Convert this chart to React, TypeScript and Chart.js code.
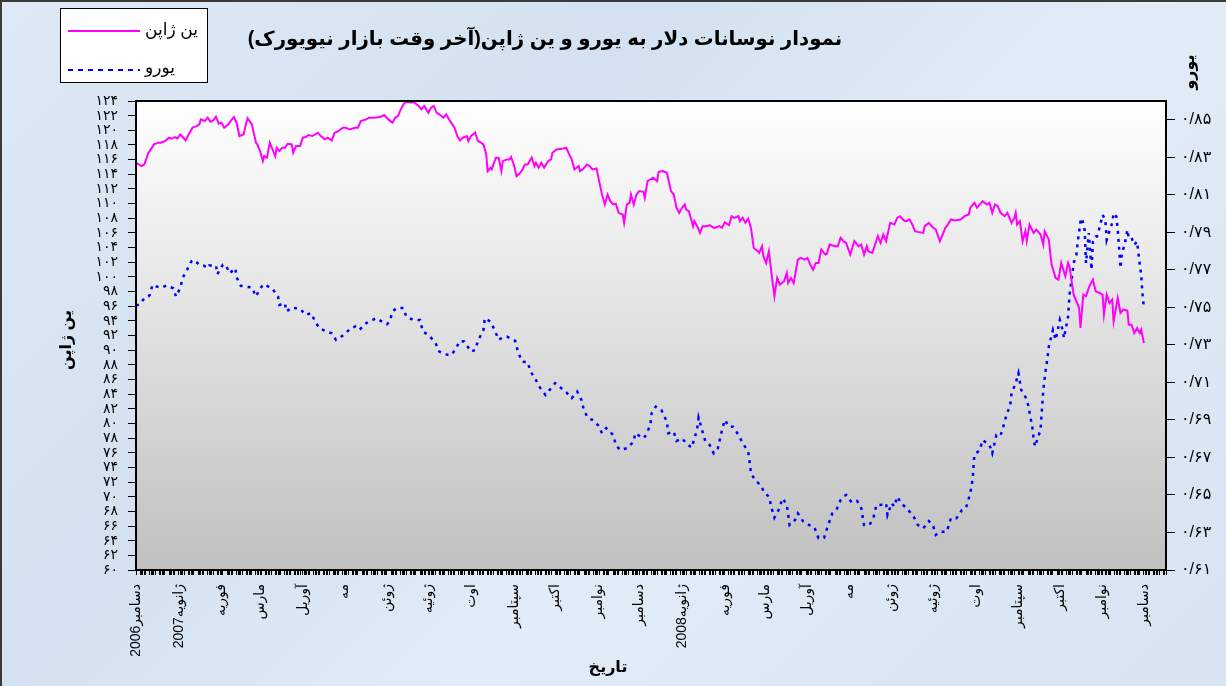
import React, { useEffect, useRef } from 'react';
import { Chart, registerables } from 'chart.js';

Chart.register(...registerables);

const titleText = 'نمودار نوسانات دلار به یورو و ین ژاپن(آخر وقت بازار نیویورک)';
const yenLabel = 'ین ژاپن';
const euroLabel = 'یورو';
const xAxisTitle = 'تاریخ';

const monthLabels = [
  'دسامبر2006', 'ژانویه2007', 'فوریه', 'مارس', 'آوریل', 'مه', 'ژوئن', 'ژوئیه', 'اوت', 'سپتامبر', 'اکتبر', 'نوامبر',
  'دسامبر', 'ژانویه2008', 'فوریه', 'مارس', 'آوریل', 'مه', 'ژوئن', 'ژوئیه', 'اوت', 'سپتامبر', 'اکتبر', 'نوامبر', 'دسامبر',
];
// day offsets from 1 Dec 2006
const monthStartDays = [0, 31, 62, 90, 121, 151, 182, 212, 243, 274, 304, 335, 365, 396, 427, 456, 487, 517, 548, 578, 609, 640, 670, 701, 731];
const xAxisMaxDay = 747;

const yenTickValues = [60, 62, 64, 66, 68, 70, 72, 74, 76, 78, 80, 82, 84, 86, 88, 90, 92, 94, 96, 98, 100, 102, 104, 106, 108, 110, 112, 114, 116, 118, 120, 122, 124];
const euroTickValues = [0.61, 0.63, 0.65, 0.67, 0.69, 0.71, 0.73, 0.75, 0.77, 0.79, 0.81, 0.83, 0.85];

const yenDays = [
  0, 4, 6, 9, 10, 13, 16, 18, 21, 24, 26, 28, 30, 32, 34, 36, 38, 41, 44, 46, 47, 50, 52, 54, 56, 58, 60, 62, 64, 67,
  69, 71, 73, 75, 78, 80, 81, 84, 87, 88, 90, 92, 93, 95, 97, 99, 101, 102, 104, 106, 108, 110, 113, 114, 116, 119, 121, 123, 125, 128,
  132, 134, 137, 139, 142, 144, 146, 150, 152, 155, 159, 161, 163, 167, 169, 173, 177, 180, 183, 186, 188, 190, 192, 194, 196, 200, 201, 205, 207, 209,
  212, 214, 216, 218, 220, 223, 225, 227, 231, 233, 235, 237, 240, 241, 243, 246, 248, 249,
  252, 254, 255, 257, 258, 261, 263, 265, 266, 269, 271, 272, 274, 276, 278, 280, 282, 284, 287, 289, 290, 292, 294, 296, 299, 301, 302, 305, 310, 312,
  314, 316, 318, 321, 322, 324, 327, 329, 331, 334, 336, 338, 340, 342, 344, 346, 348, 350, 353, 354, 356, 358, 359, 361, 363, 365, 368, 369, 371, 373,
  375, 378, 379, 382, 385, 388, 390, 392, 394, 396, 398, 399, 401, 404, 405, 407, 409, 411, 414, 416, 419, 421, 423, 425, 427, 430, 432, 434, 437, 438,
  440, 442, 444, 446, 448, 451, 452, 454, 455, 457, 459, 461, 463, 465, 467, 470, 472, 473, 475, 477, 480, 482, 485, 487, 489, 491,
  493, 495, 497, 500, 501, 503, 507, 509, 511, 513, 515, 518, 521, 524, 526, 528, 530, 531, 534, 536, 538, 540, 542, 544, 547, 550, 552, 554, 557, 559,
  561, 563, 565, 567, 571, 572, 575, 577, 580, 583, 587, 588, 591, 594, 598, 601, 604, 605, 608, 610, 614, 617, 619, 621, 623, 625, 627, 630, 632, 635,
  637, 638, 639, 641, 643, 645, 646, 648, 651, 653, 656, 658, 659, 662, 664, 667, 669, 671, 674, 676, 677, 680, 684, 685, 687, 689, 691, 692, 694, 696,
  699, 701, 702, 704, 706, 708, 709, 712, 714, 716, 719, 720, 722, 724, 726, 728, 729, 731,
];
const yenValues = [
  115.57, 115.12, 115.34, 116.94, 117.17, 118.08, 118.31, 118.31, 118.53, 118.99, 118.85, 119.08, 118.90, 119.44, 119.08, 118.62, 119.35, 120.36, 120.58, 120.81, 121.49, 121.27, 121.72, 121.18, 121.36, 121.86, 120.90, 121.04, 120.36, 120.81,
  121.36, 121.81, 121.04, 119.22, 119.44, 121.04, 121.63, 120.81, 118.31, 118.08, 117.17, 115.80, 116.48, 116.26, 118.31, 117.39, 116.48, 117.62, 117.17, 117.62, 117.62, 118.17, 118.08, 116.94, 117.85, 117.85, 118.99, 119.08, 119.35, 119.22,
  119.67, 119.22, 118.76, 118.99, 118.62, 119.67, 119.81, 120.36, 120.36, 120.13, 120.36, 120.36, 121.27, 121.49, 121.72, 121.72, 121.81, 122.09, 121.49, 121.04, 121.72, 121.95, 122.86, 123.54, 123.91, 123.77, 123.91, 123.32, 122.86, 123.32,
  122.41, 123.09, 123.32, 122.41, 122.18, 121.72, 122.18, 121.49, 120.36, 119.22, 118.62, 118.99, 119.22, 118.53, 119.22, 119.67, 118.53, 118.44,
  118.08, 116.71, 114.43, 114.89, 114.66, 116.26, 116.26, 114.43, 115.80, 116.03, 116.03, 116.35, 115.34, 113.75, 114.07, 114.52, 115.34, 115.34, 116.26, 115.12, 115.57, 114.89, 115.57, 114.89, 115.80, 116.03, 116.94, 117.39, 117.53, 117.62,
  116.80, 116.03, 114.66, 115.12, 114.43, 114.66, 115.34, 115.12, 114.66, 114.80, 112.97, 111.24, 109.88, 111.24, 110.33, 109.88, 109.97, 108.74, 108.51, 107.37, 109.88, 110.10, 111.24, 109.88, 111.24, 111.70, 111.61, 110.79, 113.07, 113.29,
  113.52, 113.07, 114.34, 114.43, 114.21, 111.70, 111.24, 109.42, 108.74, 109.42, 109.88, 109.19, 108.97, 106.92, 107.60, 106.92, 106.00, 106.92, 106.92, 107.05, 106.69, 106.78, 106.92, 106.69, 107.46, 107.05, 108.28, 108.05, 108.28, 107.60,
  108.05, 107.37, 107.96, 106.69, 103.95, 103.50, 103.27, 104.18, 102.82, 101.90, 103.50, 100.31, 97.35, 99.85, 98.94, 99.40, 100.54, 99.17, 99.85, 99.17, 102.36, 102.59, 102.36, 102.59, 101.68, 100.99,
  101.90, 101.90, 103.73, 103.04, 103.13, 104.41, 104.18, 104.18, 105.32, 104.87, 104.64, 103.04, 104.87, 104.18, 104.41, 103.04, 104.18, 103.50, 103.27, 104.41, 105.55, 104.64, 105.78, 104.87, 107.37, 107.14, 108.05, 108.28, 107.69, 107.60,
  107.83, 107.14, 106.23, 106.14, 106.00, 106.92, 107.37, 106.92, 106.46, 104.87, 106.69, 106.92, 107.83, 107.69, 107.83, 108.28, 108.51, 109.42, 110.10, 109.42, 110.33, 109.88, 110.10, 108.74, 109.88, 109.65, 108.74, 108.28, 108.74, 107.37,
  108.05, 108.74, 107.14, 107.60, 104.87, 106.23, 104.87, 107.14, 106.00, 106.46, 105.78, 104.41, 106.23, 105.09, 101.68, 99.85, 99.63, 101.90, 100.08, 101.90, 101.45, 97.58, 95.75, 93.02, 97.58, 97.35, 98.49, 98.94, 99.63, 98.03,
  97.80, 97.58, 94.84, 97.58, 96.44, 96.89, 93.93, 97.12, 95.07, 95.53, 95.39, 93.48, 93.48, 92.34, 93.02, 92.34, 92.79, 90.97,
];

const euroDays = [
  0, 3, 6, 9, 10, 12, 15, 17, 19, 22, 27, 29, 32, 34, 37, 40, 42, 46, 49, 52, 53, 58, 59, 63, 65, 68, 72, 73, 76, 79,
  84, 87, 90, 93, 97, 99, 103, 104, 108, 109, 113, 119, 123, 127, 130, 133, 138, 142, 145, 148, 153, 155, 159, 162, 167, 174, 182, 184, 186, 189,
  194, 196, 201, 206, 208, 212, 217, 220, 226, 229, 232, 235, 238, 243, 246, 248,
  252, 253, 257, 260, 263, 266, 269, 275, 277, 280, 284, 286, 290, 293, 297, 300, 304, 307, 312, 316, 320, 323, 325, 328, 331, 335, 338, 341, 346, 348,
  351, 356, 361, 362, 368, 370, 373, 374, 377, 381, 385, 386, 390, 392, 396, 399, 403, 407, 408, 411, 413, 416, 419, 422, 425, 427, 430, 433, 437, 440,
  444, 445, 446, 449, 454, 455, 459, 461, 463, 466, 469, 472, 474, 478, 480, 484, 488,
  492, 495, 499, 502, 505, 508, 511, 513, 515, 519, 523, 526, 528, 532, 535, 537, 540, 544, 545, 548, 550, 552, 555, 560, 564, 567, 571, 575, 578, 580,
  583, 588, 591, 595, 599, 602, 604, 606, 607, 608, 612, 614, 619, 621, 624, 627, 629, 631, 634, 635, 638, 640, 641, 642, 645, 647, 650, 651, 652, 656,
  657, 658, 659, 660, 661, 662, 665, 667, 670, 672, 673, 676, 677, 679, 680, 682, 683, 684, 685, 686, 688, 689, 691, 693, 694, 696, 697, 699, 701, 703,
  704, 706, 708, 709, 711, 712, 713, 714, 715, 717, 719, 720, 722, 724, 726, 727, 728, 729, 730, 731,
];
const euroValues = [
  0.7510, 0.7517, 0.7549, 0.7558, 0.7567, 0.7620, 0.7611, 0.7606, 0.7606, 0.7616, 0.7602, 0.7558, 0.7602, 0.7659, 0.7700, 0.7744, 0.7753, 0.7727, 0.7723, 0.7709, 0.7723, 0.7723, 0.7677, 0.7727, 0.7727, 0.7682, 0.7709, 0.7659, 0.7615, 0.7611,
  0.7606, 0.7558, 0.7602, 0.7624, 0.7606, 0.7599, 0.7558, 0.7513, 0.7522, 0.7478, 0.7499, 0.7492, 0.7460, 0.7469, 0.7424, 0.7389, 0.7371, 0.7362, 0.7327, 0.7339, 0.7368, 0.7385, 0.7398, 0.7380, 0.7416, 0.7442, 0.7410, 0.7424, 0.7478, 0.7496,
  0.7496, 0.7451, 0.7433, 0.7433, 0.7371, 0.7353, 0.7314, 0.7264, 0.7247, 0.7247, 0.7282, 0.7321, 0.7318, 0.7264, 0.7273, 0.7321,
  0.7380, 0.7442, 0.7424, 0.7380, 0.7327, 0.7339, 0.7344, 0.7321, 0.7264, 0.7211, 0.7208, 0.7161, 0.7113, 0.7072, 0.7033, 0.7060, 0.7096, 0.7078, 0.7048, 0.7016, 0.7051, 0.7007, 0.6948, 0.6909, 0.6900, 0.6873, 0.6829, 0.6856, 0.6820, 0.6767,
  0.6740, 0.6749, 0.6784, 0.6829, 0.6802, 0.6820, 0.6873, 0.6936, 0.6971, 0.6953, 0.6891, 0.6829, 0.6838, 0.6788, 0.6802, 0.6776, 0.6752, 0.6852, 0.6912, 0.6834, 0.6784, 0.6767, 0.6722, 0.6749, 0.6847, 0.6900, 0.6864, 0.6864, 0.6820, 0.6776,
  0.6731, 0.6678, 0.6616, 0.6580, 0.6544, 0.6518, 0.6491, 0.6429, 0.6379, 0.6420, 0.6482, 0.6447, 0.6340, 0.6367, 0.6402, 0.6358, 0.6340,
  0.6328, 0.6269, 0.6272, 0.6340, 0.6402, 0.6420, 0.6473, 0.6491, 0.6500, 0.6461, 0.6468, 0.6429, 0.6340, 0.6340, 0.6384, 0.6447, 0.6447, 0.6456, 0.6393, 0.6456, 0.6438, 0.6491, 0.6456, 0.6420, 0.6384, 0.6340, 0.6322, 0.6361, 0.6340, 0.6287,
  0.6304, 0.6304, 0.6376, 0.6376, 0.6420, 0.6432, 0.6482, 0.6544, 0.6607, 0.6713, 0.6740, 0.6793, 0.6767, 0.6722, 0.6820, 0.6816, 0.6864, 0.6918, 0.6980, 0.7042, 0.7096, 0.7149, 0.7104, 0.7060, 0.7024, 0.6980, 0.6864, 0.6802, 0.6758, 0.6847,
  0.6953, 0.7060, 0.7122, 0.7179, 0.7229, 0.7291, 0.7380, 0.7327, 0.7433, 0.7380, 0.7336, 0.7451, 0.7567, 0.7673, 0.7736, 0.7780, 0.7851, 0.7904, 0.7958, 0.7976, 0.7913, 0.7736, 0.7896, 0.7700, 0.7851, 0.7878, 0.7878, 0.7931, 0.7993, 0.7967,
  0.7860, 0.7908, 0.7949, 0.8002, 0.7984, 0.7913, 0.7816, 0.7709, 0.7789, 0.7833, 0.7913, 0.7869, 0.7872, 0.7833, 0.7851, 0.7789, 0.7727, 0.7673, 0.7567, 0.7496,
];

const FONT = '"Liberation Sans", "DejaVu Sans", sans-serif';
const FA_DIGITS = '۰۱۲۳۴۵۶۷۸۹';
const toFa = (s: string) => s.replace(/[0-9]/g, (d) => FA_DIGITS[Number(d)]);

const W = 1226;
const H = 686;
const PLOT = { left: 136, right: 1166, top: 101, bottom: 570 };

const decorPlugin = {
  id: 'decor',
  beforeDraw(chart: any) {
    const { ctx, chartArea: a } = chart;
    ctx.save();
    const g = ctx.createLinearGradient(0, a.top, 0, a.bottom);
    g.addColorStop(0, '#ffffff');
    g.addColorStop(1, '#c0c0c0');
    ctx.fillStyle = g;
    ctx.fillRect(a.left, a.top, a.right - a.left, a.bottom - a.top);
    ctx.restore();
  },
  afterDraw(chart: any) {
    const { ctx, chartArea: a } = chart;
    ctx.save();
    ctx.direction = 'rtl';
    ctx.strokeStyle = '#000';
    ctx.lineWidth = 2;
    ctx.strokeRect(a.left, a.top, a.right - a.left, a.bottom - a.top);

    ctx.fillStyle = '#000';
    ctx.textAlign = 'center';
    ctx.textBaseline = 'middle';
    ctx.font = `bold 20px ${FONT}`;
    const tw = ctx.measureText(titleText).width;
    const ts = Math.max(15, Math.min(24, (20 * 595) / tw));
    ctx.font = `bold ${ts.toFixed(1)}px ${FONT}`;
    ctx.fillText(titleText, 545, 40);

    ctx.font = `bold 16px ${FONT}`;
    ctx.save();
    ctx.translate(67, 340);
    ctx.rotate(-Math.PI / 2);
    ctx.fillText(yenLabel, 0, 0);
    ctx.restore();
    ctx.save();
    ctx.translate(1190, 72);
    ctx.rotate(-Math.PI / 2);
    ctx.fillText(euroLabel, 0, 0);
    ctx.restore();
    ctx.fillText(xAxisTitle, 608, 668);

    // legend
    ctx.fillStyle = '#fff';
    ctx.fillRect(60, 8, 148, 75);
    ctx.lineWidth = 1;
    ctx.strokeStyle = '#000';
    ctx.strokeRect(60.5, 8.5, 147, 74);
    ctx.lineWidth = 2;
    ctx.strokeStyle = '#ff00ff';
    ctx.beginPath();
    ctx.moveTo(68, 31);
    ctx.lineTo(140, 31);
    ctx.stroke();
    ctx.strokeStyle = '#0000ff';
    ctx.setLineDash([5, 5]);
    ctx.beginPath();
    ctx.moveTo(68, 70);
    ctx.lineTo(140, 70);
    ctx.stroke();
    ctx.setLineDash([]);
    ctx.fillStyle = '#000';
    ctx.textAlign = 'left';
    ctx.font = `17px ${FONT}`;
    ctx.fillText(yenLabel, 145, 30);
    ctx.fillText(euroLabel, 145, 68);
    ctx.restore();
  },
};

export default function App() {
  const ref = useRef<HTMLCanvasElement | null>(null);

  useEffect(() => {
    const canvas = ref.current;
    if (!canvas) return;
    const labelByDay: Record<number, string> = {};
    monthStartDays.forEach((d, i) => (labelByDay[d] = monthLabels[i]));
    const xTickDays: number[] = [];
    for (let d = 0; d <= xAxisMaxDay; d++) {
      const wd = d % 7; // day 0 is a Friday
      if ((wd !== 1 && wd !== 2) || labelByDay[d] !== undefined) xTickDays.push(d);
    }

    const chart = new Chart(canvas, {
      type: 'line',
      data: {
        datasets: [
          {
            label: yenLabel,
            data: yenDays.map((d, i) => ({ x: d, y: yenValues[i] })),
            borderColor: '#ff00ff',
            backgroundColor: '#ff00ff',
            borderWidth: 2,
            pointRadius: 0,
            tension: 0,
            yAxisID: 'y',
          },
          {
            label: euroLabel,
            data: euroDays.map((d, i) => ({ x: d, y: euroValues[i] })),
            borderColor: '#0000ff',
            backgroundColor: '#0000ff',
            borderWidth: 2.5,
            borderDash: [3, 5],
            pointRadius: 0,
            tension: 0,
            yAxisID: 'y1',
          },
        ],
      },
      options: {
        responsive: false,
        animation: false,
        layout: { padding: { top: PLOT.top, left: 0, right: 0, bottom: 0 } },
        plugins: { legend: { display: false }, title: { display: false }, tooltip: { enabled: false } },
        scales: {
          x: {
            type: 'linear',
            min: 0,
            max: xAxisMaxDay,
            afterBuildTicks: (s: any) => {
              s.ticks = xTickDays.map((v) => ({ value: v }));
            },
            afterFit: (s: any) => {
              s.height = H - PLOT.bottom;
            },
            ticks: {
              autoSkip: false,
              minRotation: 90,
              maxRotation: 90,
              padding: 9,
              color: '#000',
              font: { size: 14, family: FONT },
              callback: (v: any) => labelByDay[v] ?? '',
            },
            grid: { drawOnChartArea: false, tickLength: 5, tickColor: '#000', lineWidth: 1 },
            border: { color: '#000', width: 2 },
          },
          y: {
            position: 'left',
            min: 60,
            max: 124,
            afterBuildTicks: (s: any) => {
              s.ticks = yenTickValues.map((v) => ({ value: v }));
            },
            afterFit: (s: any) => {
              s.width = PLOT.left;
            },
            ticks: {
              autoSkip: false,
              padding: 10,
              color: '#000',
              font: { size: 14, family: FONT },
              callback: (v: any) => toFa(String(v)),
            },
            grid: { drawOnChartArea: false, tickLength: 8, tickColor: '#000', lineWidth: 1 },
            border: { color: '#000', width: 2 },
          },
          y1: {
            position: 'right',
            min: 0.61,
            max: 0.86,
            afterBuildTicks: (s: any) => {
              s.ticks = euroTickValues.map((v) => ({ value: v }));
            },
            afterFit: (s: any) => {
              s.width = W - PLOT.right;
            },
            ticks: {
              autoSkip: false,
              padding: 6,
              color: '#000',
              font: { size: 16, family: FONT },
              callback: (v: any) => toFa(Number(v).toFixed(2)).replace('.', '/'),
            },
            grid: { drawOnChartArea: false, tickLength: 9, tickColor: '#000', lineWidth: 1 },
            border: { color: '#000', width: 2 },
          },
        },
      },
      plugins: [decorPlugin],
    } as any);
    return () => chart.destroy();
  }, []);

  return (
    <div
      style={{
        position: 'fixed',
        left: 0,
        top: 0,
        width: W,
        height: H,
        boxSizing: 'border-box',
        borderTop: '2px solid #3a3a3a',
        borderLeft: '2px solid #3a3a3a',
        background: 'linear-gradient(135deg, #dfe9f5 0%, #d3e1f0 35%, #e2ecf7 60%, #d6e3f1 100%)',
        overflow: 'hidden',
      }}
    >
      <canvas
        ref={ref}
        width={W}
        height={H}
        style={{ position: 'absolute', left: -2, top: -2, width: W, height: H, direction: 'rtl' }}
      />
    </div>
  );
}
